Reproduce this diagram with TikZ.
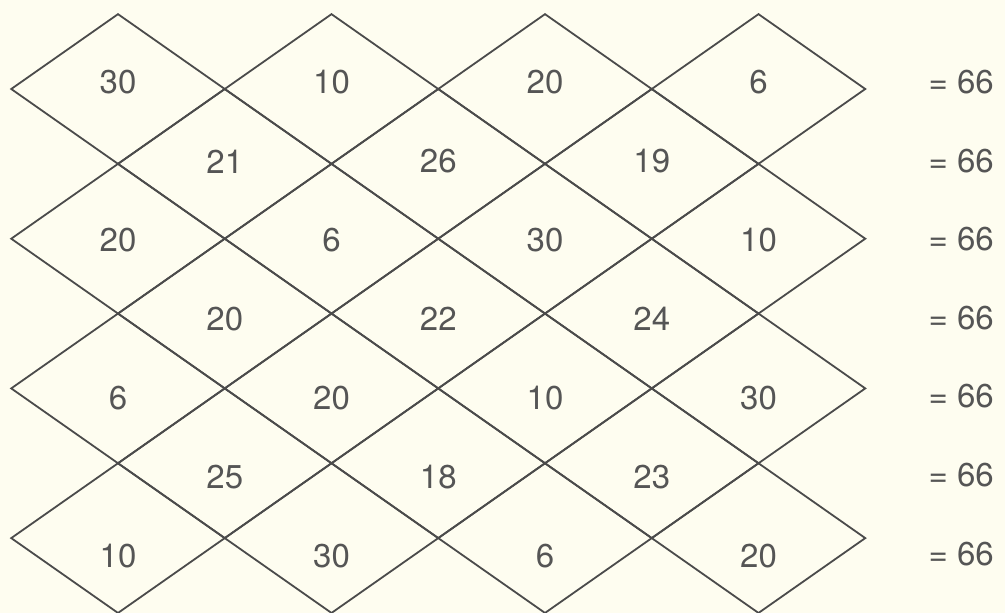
\documentclass[tikz,border=0pt]{standalone}
\usepackage{fontspec}
\setsansfont{TeX Gyre Heros}
\definecolor{bg}{RGB}{254,253,240}
\definecolor{ink}{RGB}{75,75,75}
\definecolor{txt}{RGB}{85,85,85}
\tikzset{
  cell/.style={draw=ink, line width=1.8pt, line join=miter},
  num/.style={text=txt, font=\sffamily\fontsize{33}{35}\selectfont, inner sep=0pt},
}
\begin{document}
\begin{tikzpicture}[x=1pt,y=-1pt]
\fill[bg] (0,0) rectangle (1005,613);
\useasboundingbox (0,0) rectangle (1005,613);
\def\hw{106.75}
\def\hh{74.85}
% diamonds of the full rows
\foreach \r in {0,2,4,6}
  \foreach \k in {0,2,4,6}
    \draw[cell] ({118+\k*\hw-\hw},{89+\r*\hh}) -- ++(\hw,-\hh) -- ++(\hw,\hh) -- ++(-\hw,\hh) -- cycle;
% diamonds of the short rows
\foreach \r in {1,3,5}
  \foreach \k in {1,3,5}
    \draw[cell] ({118+\k*\hw-\hw},{89+\r*\hh}) -- ++(\hw,-\hh) -- ++(\hw,\hh) -- ++(-\hw,\hh) -- cycle;
% numbers
\foreach \r/\k/\v in {
  0/0/30, 0/2/10, 0/4/20, 0/6/6,
  1/1/21, 1/3/26, 1/5/19,
  2/0/20, 2/2/6, 2/4/30, 2/6/10,
  3/1/20, 3/3/22, 3/5/24,
  4/0/6, 4/2/20, 4/4/10, 4/6/30,
  5/1/25, 5/3/18, 5/5/23,
  6/0/10, 6/2/30, 6/4/6, 6/6/20}
  \node[num] (n-\r-\k) at ({118+\k*\hw},{82.5+78.9*\r}) {\v};
% row sums
\foreach \r in {0,...,6}
  \node[num, anchor=east] (eq-\r) at (994,{82+78.6*\r}) {= 66};
\end{tikzpicture}
\end{document}
